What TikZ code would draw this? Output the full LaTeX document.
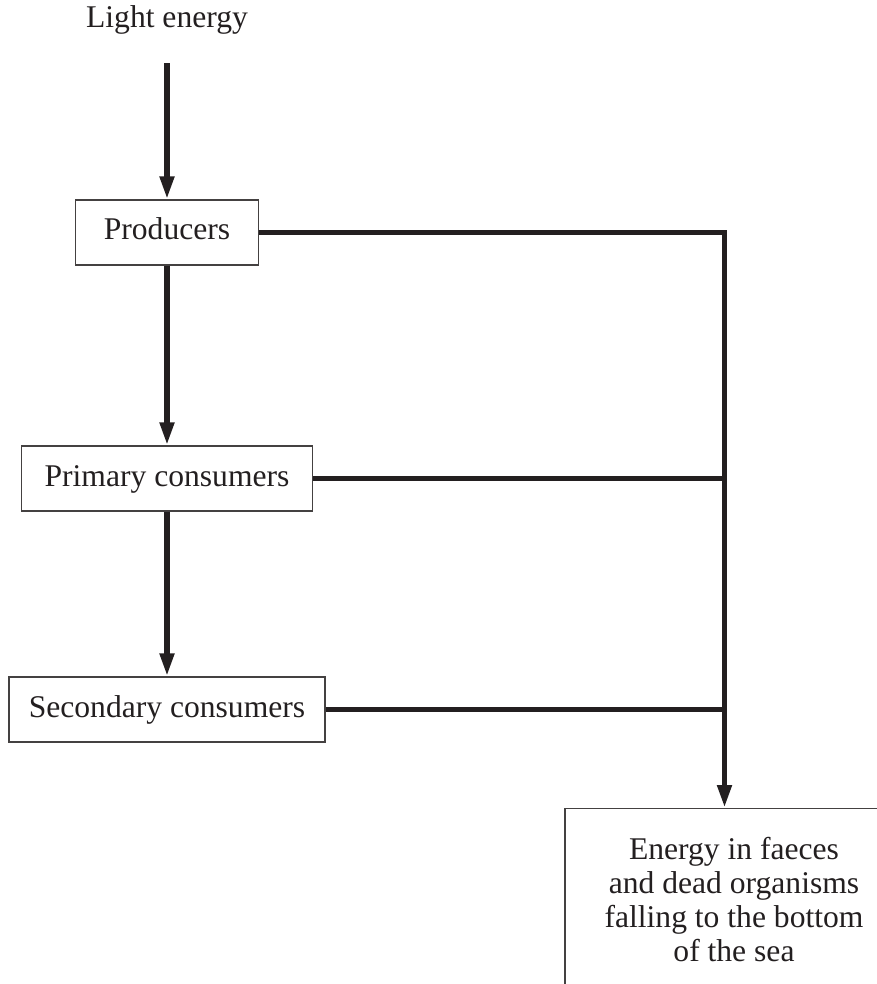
\documentclass[tikz,border=0pt]{standalone}
\usepackage{fontspec}
\setmainfont{Liberation Serif}
\usetikzlibrary{arrows.meta}
\definecolor{ink}{RGB}{35,31,32}

\begin{document}
\begin{tikzpicture}[x=0.5pt, y=-0.5pt,
    every node/.style={font=\fontsize{15.8}{17}\selectfont, text=ink},
    level/.style={draw=ink!85, line width=0.6pt, minimum height=32.5pt, inner sep=0pt, text height=10pt, text depth=2.5pt},
    sinkbox/.style={draw=ink!85, line width=0.6pt, align=center, minimum width=169pt, inner ysep=14.4pt, anchor=north},
    flow/.style={draw=ink, line width=2.8pt, -{Triangle[length=11.5pt, width=6.8pt]}},
    link/.style={draw=ink, line width=2.8pt}]
    \useasboundingbox (0, 0) rectangle (877, 984);
    \clip (0, 0) rectangle (877, 984);

    \node[anchor=base, inner ysep=14pt] (light) at (167, 28) {Light energy};
    \node[level, minimum width=91.5pt] (prod) at (167, 232.5) {Producers};
    \node[level, minimum width=145.5pt] (prim) at (167, 478.5) {Primary consumers};
    \node[level, minimum width=158pt] (sec) at (167, 709.5) {Secondary consumers};
    \node[sinkbox] (sink) at (734, 808) {Energy in faeces\\and dead organisms\\falling to the bottom\\of the sea\rule[-6pt]{0pt}{6pt}};
    \coordinate (bend) at (724.5, 232.5);

    \draw[flow] (light) -- (prod);
    \draw[flow] (prod) -- (prim);
    \draw[flow] (prim) -- (sec);
    \draw[flow] (prod) -- (bend) -- (bend |- sink.north);
    \draw[link] (prim) -- (prim -| bend);
    \draw[link] (sec) -- (sec -| bend);
\end{tikzpicture}
\end{document}
